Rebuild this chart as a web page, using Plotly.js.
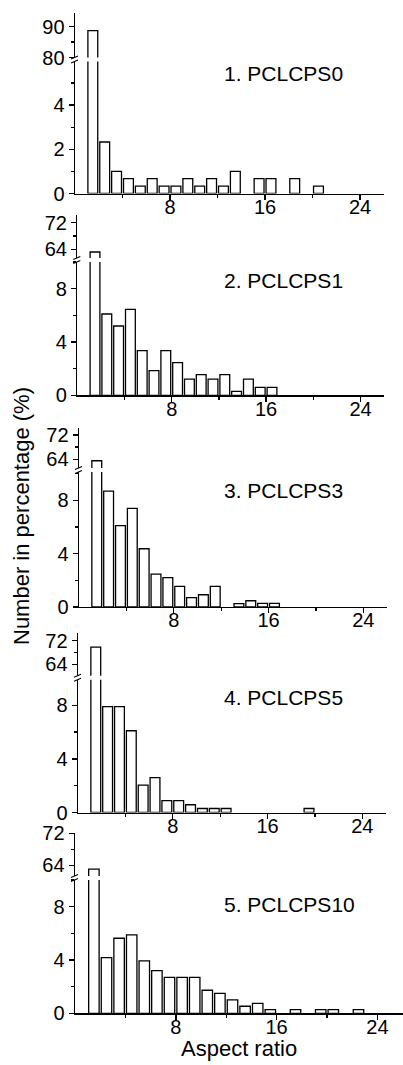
<!DOCTYPE html>
<html>
<head>
<meta charset="utf-8">
<script src="https://cdn.plot.ly/plotly-3.0.1.min.js"></script>
<style>html,body{margin:0;padding:0;background:#fff;}#chart{width:403px;height:1065px;}</style>
</head>
<body>
<div id="chart"></div>
<script>
// ---------- data ----------
const aspectBins = [1.5,2.5,3.5,4.5,5.5,6.5,7.5,8.5,9.5,10.5,11.5,12.5,13.5,14.5,15.5,16.5,17.5,18.5,19.5,20.5,21.5,22.5];
const pclcps0  = [88.7,2.33,1.0,0.67,0.33,0.67,0.33,0.33,0.67,0.33,0.67,0.33,1.0,0,0.67,0.67,0,0.67,0,0.33,0,0];
const pclcps1  = [63.2,6.1,5.2,6.45,3.35,1.85,3.35,2.45,1.22,1.55,1.22,1.55,0.3,1.22,0.6,0.6,0,0,0,0,0,0];
const pclcps3  = [63.5,8.7,6.1,7.4,4.37,2.47,2.2,1.55,0.7,0.92,1.55,0,0.25,0.47,0.27,0.27,0,0,0,0,0,0];
const pclcps5  = [69.8,7.9,7.9,6.1,2.05,2.6,0.88,0.88,0.58,0.3,0.3,0.3,0,0,0,0,0,0,0.3,0,0,0];
const pclcps10 = [63.0,4.18,5.63,5.88,3.93,3.2,2.7,2.7,2.7,1.73,1.5,1.0,0.53,0.75,0.28,0,0.28,0,0.28,0.28,0,0.28];
const seriesList = [pclcps0, pclcps1, pclcps3, pclcps5, pclcps10];
const panelLabels = ['1. PCLCPS0','2. PCLCPS1','3. PCLCPS3','4. PCLCPS5','5. PCLCPS10'];
const xTickVals = [8,16,24];
const xTickText = ['8','16','24'];
const xMinorTickVals = [4,12,20];
const xTitle = 'Aspect ratio';
const yTitle = 'Number in percentage (%)';

// ---------- layout geometry (pixels) ----------
const W = 403, H = 1065;
const FONT = 'Arial, "Liberation Sans", Helvetica, sans-serif';
const geo = [
  {x0:75,  x1:383.8, lo:[61.5,193.5], loR:[0,5.97],  up:[13.3,57.5], upR:[80,94.26], loD:2, loM:1, upD:10, upM:5, labelY:74},
  {x0:77.3,x1:384.1, lo:[262,395.3],  loR:[0,10.0],  up:[215,258],   upR:[61.4,74.3], loD:4, loM:2, upD:8, upM:4, labelY:281},
  {x0:79,  x1:387,   lo:[472,607],    loR:[0,10.13], up:[428.3,468], upR:[61.1,74.2], loD:4, loM:2, upD:8, upM:4, labelY:490},
  {x0:78,  x1:386,   lo:[679.7,812.5],loR:[0,9.91],  up:[633.3,675.7],upR:[60.1,74.5],loD:4, loM:2, upD:8, upM:4, labelY:697},
  {x0:75,  x1:402.6, lo:[880,1013.3], loR:[0,10.0],  up:[832.5,876], upR:[61.3,72.2], loD:4, loM:2, upD:8, upM:4, labelY:904}
];
const fx = p => p / W;
const fy = p => 1 - p / H;

const traces = [];
const layout = {
  width: W, height: H,
  margin: {l:0, r:0, t:0, b:0},
  paper_bgcolor: '#fff', plot_bgcolor: 'rgba(0,0,0,0)',
  showlegend: false,
  font: {family: FONT, color: '#000', size: 20},
  annotations: [], shapes: []
};

const axisCommon = {
  showgrid: false, zeroline: false, showline: true, linecolor: '#000', linewidth: 1.4,
  ticks: 'outside', ticklen: 5, tickwidth: 1.4, tickcolor: '#000',
  tickfont: {family: FONT, size: 20, color: '#000'}, automargin: false, fixedrange: true
};

geo.forEach((g, i) => {
  const xi = i + 1, yl = 2 * i + 1, yu = 2 * i + 2;
  const xName = xi === 1 ? 'x' : 'x' + xi;
  const ylName = yl === 1 ? 'y' : 'y' + yl;
  const yuName = 'y' + yu;
  const barStyle = {color: '#fff', line: {color: '#000', width: 1.3}};
  // empty bins are not drawn as bars
  const vals = seriesList[i].map(v => (v === 0 ? null : v));
  traces.push({type: 'bar', x: aspectBins, y: vals, width: 0.83, marker: barStyle,
    xaxis: xName, yaxis: ylName, hoverinfo: 'skip', cliponaxis: true});
  traces.push({type: 'bar', x: aspectBins, y: vals, width: 0.83, marker: barStyle,
    xaxis: xName, yaxis: yuName, hoverinfo: 'skip', cliponaxis: true});

  layout['xaxis' + (xi === 1 ? '' : xi)] = Object.assign({}, axisCommon, {
    domain: [fx(g.x0), fx(g.x1)], range: [0, 26], anchor: ylName,
    tickmode: 'array', tickvals: xTickVals, ticktext: xTickText, ticklabelstandoff: -10,
    minor: {tickmode: 'array', tickvals: xMinorTickVals, ticks: 'outside', ticklen: 3, tickwidth: 1.3, tickcolor: '#000'}
  });
  layout['yaxis' + (yl === 1 ? '' : yl)] = Object.assign({}, axisCommon, {
    domain: [fy(g.lo[1]), fy(g.lo[0])], range: g.loR, anchor: xName,
    tick0: 0, dtick: g.loD,
    minor: {tick0: 0, dtick: g.loM, ticks: 'outside', ticklen: 3, tickwidth: 1.3, tickcolor: '#000'}
  });
  layout['yaxis' + yu] = Object.assign({}, axisCommon, {
    domain: [fy(g.up[1]), fy(g.up[0])], range: g.upR, anchor: xName,
    tick0: 0, dtick: g.upD,
    minor: {tick0: 0, dtick: g.upM, ticks: 'outside', ticklen: 3, tickwidth: 1.3, tickcolor: '#000'}
  });

  // break marks on the y axis
  const kc = (g.lo[0] + g.up[1]) / 2;
  [-2, 2].forEach(off => {
    layout.shapes.push({type: 'line', xref: 'paper', yref: 'paper',
      x0: fx(g.x0 - 4), y0: fy(kc + off + 1.5), x1: fx(g.x0 + 3), y1: fy(kc + off - 1.5),
      line: {color: '#000', width: 1.1}});
  });

  layout.annotations.push({text: panelLabels[i], xref: 'paper', yref: 'paper',
    x: fx(222), y: fy(g.labelY), xanchor: 'left', yanchor: 'middle', showarrow: false,
    font: {family: FONT, size: 21, color: '#000'}});
});

layout.annotations.push({text: yTitle, xref: 'paper', yref: 'paper', x: fx(21), y: fy(516),
  xanchor: 'center', yanchor: 'middle', textangle: -90, showarrow: false,
  font: {family: FONT, size: 22, color: '#000'}});
layout.annotations.push({text: xTitle, xref: 'paper', yref: 'paper', x: fx(239), y: fy(1063),
  xanchor: 'center', yanchor: 'bottom', showarrow: false,
  font: {family: FONT, size: 22, color: '#000'}});

Plotly.newPlot('chart', traces, layout, {staticPlot: true, displayModeBar: false});
</script>
</body>
</html>
